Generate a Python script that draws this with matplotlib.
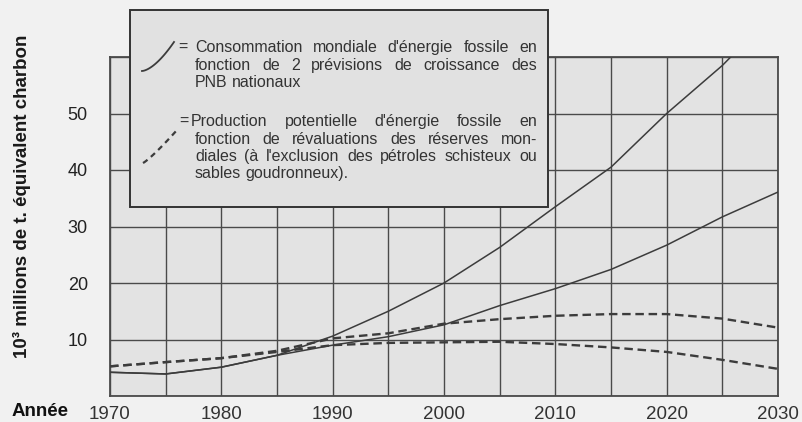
import numpy as np
import matplotlib
matplotlib.use('Agg')
import matplotlib.pyplot as plt
from matplotlib.patches import Rectangle
from matplotlib.lines import Line2D
from matplotlib.transforms import IdentityTransform

plt.rcParams['font.family'] = ['Liberation Sans']

# Données (10^3 millions de t. équivalent charbon)
annees = [1970, 1975, 1980, 1985, 1990, 1995, 2000, 2005, 2010, 2015, 2020, 2025, 2030]
conso_haute = [4.2, 3.9, 5.1, 7.2, 10.6, 15.0, 20.0, 26.3, 33.5, 40.5, 50.0, 58.5, 68.5]
conso_basse = [4.2, 3.9, 5.1, 7.2, 9.0, 10.5, 12.6, 16.0, 19.0, 22.4, 26.7, 31.7, 36.1]
prod_haute = [5.25, 6.0, 6.7, 8.0, 10.2, 11.1, 12.8, 13.6, 14.2, 14.5, 14.5, 13.7, 12.1]
prod_basse = [5.25, 6.0, 6.7, 7.8, 9.0, 9.4, 9.5, 9.6, 9.2, 8.6, 7.8, 6.4, 4.8]

x_labels = [1970, 1980, 1990, 2000, 2010, 2020, 2030]
y_ticks = [0, 10, 20, 30, 40, 50, 60]
y_labels = ['', '10', '20', '30', '40', '50', '']

legende_1 = ["Consommation mondiale d'énergie fossile en",
             "fonction de 2 prévisions de croissance des",
             "PNB nationaux"]
legende_2 = ["Production potentielle d'énergie fossile en",
             "fonction de révaluations des réserves mon-",
             "diales (à l'exclusion des pétroles schisteux ou",
             "sables goudronneux)."]

W, H = 802, 422
INK = '#3c3c3c'
GRID = '#4a4a4a'
TAILLE_LEG = 11.5
BASE = 5  # décalage centre -> ligne de base (px)


def px(y_top):
    """Convertit une ordonnée mesurée depuis le haut en pixels depuis le bas."""
    return H - y_top


def texte_justifie(fig, lignes, x0, x1, y0, pas, taille, x_premier=None):
    """Paragraphe justifié (sauf la dernière ligne), un texte par mot."""
    r = fig.canvas.get_renderer()
    a = fig.text(0, 0, 'a a', fontsize=taille, transform=IdentityTransform())
    b = fig.text(0, 0, 'aa', fontsize=taille, transform=IdentityTransform())
    espace = a.get_window_extent(r).width - b.get_window_extent(r).width
    a.remove()
    b.remove()
    for k, ligne in enumerate(lignes):
        y = round(px(y0 + k * pas + BASE))
        debut = x_premier if (k == 0 and x_premier is not None) else x0
        mots = ligne.split()
        objets = [fig.text(0, y, m, fontsize=taille, color='#333333', va='baseline',
                           transform=IdentityTransform(), zorder=6) for m in mots]
        larg = [t.get_window_extent(r).width for t in objets]
        if k == len(lignes) - 1 or len(mots) == 1:
            gap = espace
        else:
            gap = (x1 - debut - sum(larg)) / (len(mots) - 1)
        x = debut
        for t, w in zip(objets, larg):
            t.set_x(x)
            x += w + gap


fig = plt.figure(figsize=(W / 100, H / 100), dpi=100)
fig.patch.set_facecolor('#f1f1f1')
ax = fig.add_axes([110 / W, 1 - 396 / H, 668 / W, 339 / H])
ax.set_facecolor('#e3e3e3')

ax.plot(annees, conso_haute, color=INK, lw=1.1, zorder=3)
ax.plot(annees, conso_basse, color=INK, lw=1.1, zorder=3)
ax.plot(annees, prod_haute, color=INK, lw=1.7, linestyle=(0, (3.6, 2.0)), zorder=3)
ax.plot(annees, prod_basse, color=INK, lw=1.7, linestyle=(0, (3.6, 2.0)), zorder=3)

ax.set_xlim(1970, 2030)
ax.set_ylim(0, 60)
ax.set_xticks(x_labels)
ax.set_xticks(np.arange(1975, 2030, 10), minor=True)
ax.set_xticklabels([str(a) for a in x_labels])
ax.set_yticks(y_ticks)
ax.set_yticklabels(y_labels)
ax.tick_params(which='both', length=0)
ax.tick_params(axis='x', pad=7, labelsize=13.5, labelcolor='#333333')
ax.tick_params(axis='y', pad=16, labelsize=13, labelcolor='#222222')
ax.grid(which='both', color=GRID, lw=1.0, zorder=1)
ax.set_axisbelow(True)
for s in ax.spines.values():
    s.set_color(GRID)
    s.set_linewidth(1.3)

fig.text(12 / W, 1 - 411 / H, 'Année', fontsize=13.5, fontweight='bold',
         color='#111111', va='center', ha='left')
fig.text(22 / W, 1 - 196 / H, '10³ millions de t. équivalent charbon', rotation=90,
         fontsize=13.5, fontweight='bold', color='#1a1a1a', va='center', ha='center')

# Cadre de légende (recouvre le haut du graphique)
fig.add_artist(Rectangle((130, px(207)), 418, 197, transform=IdentityTransform(),
                         facecolor='#e1e1e1', edgecolor='#333333', lw=1.4, zorder=5))

t = np.linspace(0, 1, 30)
fig.add_artist(Line2D(142 + 32 * t, px(71 - 29 * t ** 1.6), transform=IdentityTransform(),
                      color=INK, lw=1.3, zorder=6))
fig.add_artist(Line2D(143 + 34 * t, px(163 - 33 * t ** 1.15), transform=IdentityTransform(),
                      color=INK, lw=1.6, linestyle=(0, (2.5, 2.0)), zorder=6))
fig.text(178, round(px(47 + BASE)), '=', fontsize=TAILLE_LEG, color='#333333', va='baseline',
         transform=IdentityTransform(), zorder=6)
fig.text(179, round(px(121 + BASE)), '=', fontsize=TAILLE_LEG, color='#333333', va='baseline',
         transform=IdentityTransform(), zorder=6)

texte_justifie(fig, legende_1, 195, 537, 47, 17.5, TAILLE_LEG)
texte_justifie(fig, legende_2, 195, 537, 121, 17.5, TAILLE_LEG, x_premier=191)

fig.savefig('out.png', dpi=100, facecolor=fig.get_facecolor())
